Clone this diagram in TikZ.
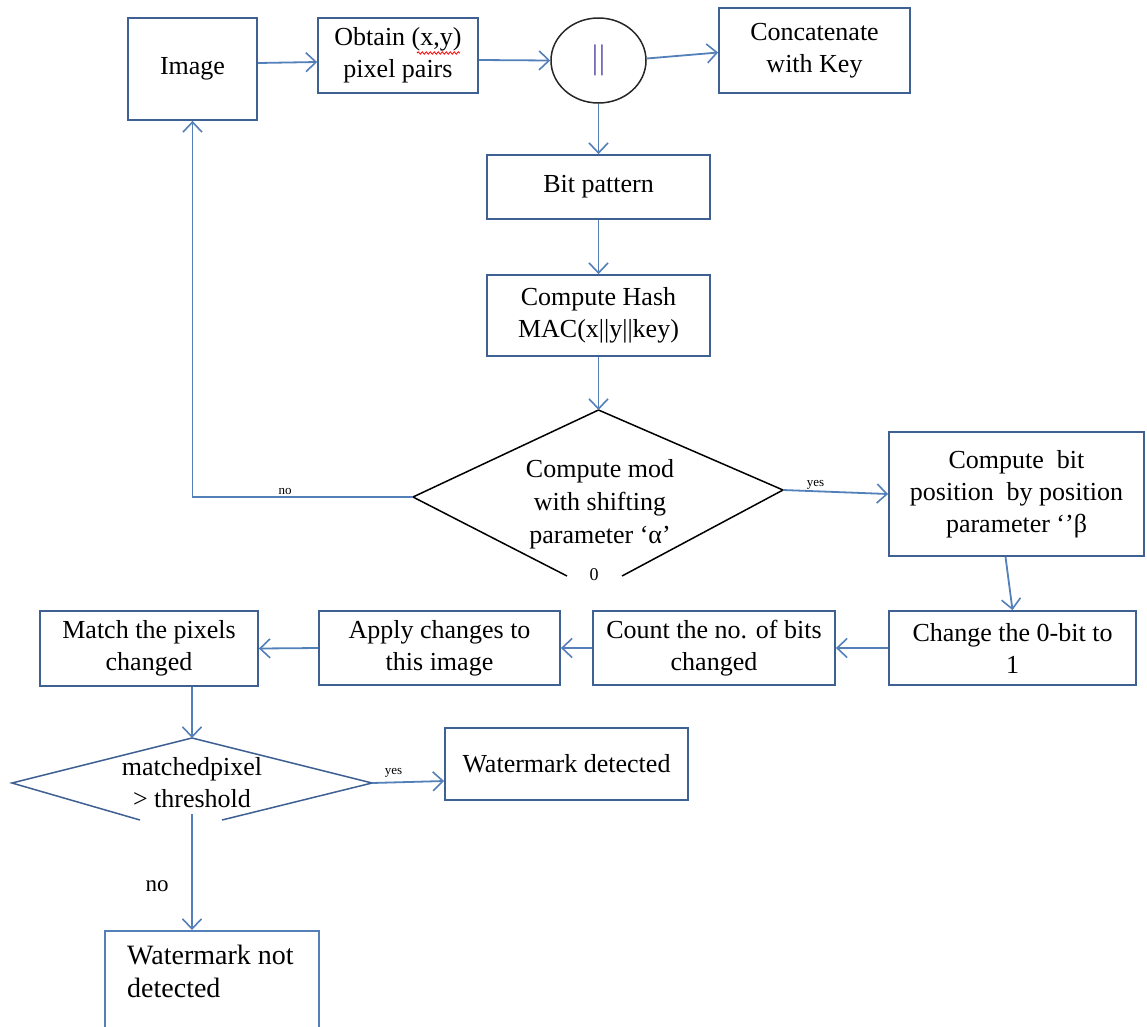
\documentclass[tikz,border=0pt]{standalone}
\usepackage{fontspec}
\setmainfont{Liberation Serif}
\usetikzlibrary{arrows.meta,shapes.geometric,decorations.pathmorphing,calc}
\definecolor{boxline}{RGB}{62,96,146}
\definecolor{flow}{RGB}{84,128,186}
\definecolor{barcol}{RGB}{110,100,175}
\tikzset{
  box/.style={draw=boxline,line width=1.8pt,inner sep=0pt,align=center,
    font=\fontsize{26}{32}\selectfont},
  link/.style={draw=flow,line width=1.8pt,
    -{Straight Barb[length=10pt,width=19pt,line width=1.6pt]}},
  decision/.style={line width=1.5pt},
  dtext/.style={align=center,font=\fontsize{26}{32}\selectfont},
  tinylabel/.style={font=\fontsize{13}{14}\selectfont,inner sep=1pt},
}
\begin{document}
\begin{tikzpicture}[x=1pt,y=-1pt]
\fill[white] (0,0) rectangle (1147,1026);
\useasboundingbox (0,0) rectangle (1147,1026);

% top row
\node[box,minimum width=129pt,minimum height=102pt] (img) at (192.5,69) {Image};
\node[box,minimum width=160pt,minimum height=75pt] (obt) at (398,55.5) {Obtain (x,y)\\pixel pairs};
\draw[red,line width=0.8pt,decorate,decoration={snake,amplitude=1.2pt,segment length=4pt}]
  (417,53) -- (460,53);
\node[ellipse,draw=black!85,line width=1.5pt,minimum width=95pt,minimum height=85pt,inner sep=0pt,
  font=\fontsize{34}{36}\selectfont,text=barcol] (bars) at (598.5,60.5) {||};
\node[box,minimum width=191pt,minimum height=85pt] (concat) at (814.5,50.5) {Concatenate\\with Key};

% middle column
\node[box,minimum width=223pt,minimum height=64pt] (bitp) at (598.5,187) {Bit pattern};
\node[box,minimum width=223pt,minimum height=81pt] (hash) at (598.5,315.5) {Compute Hash\\MAC(x||y||key)};

% first decision (lower tip cut off)
\coordinate (d1top) at (598.5,410);
\coordinate (d1left) at (413,497);
\coordinate (d1right) at (783,490);
\coordinate (d1lowL) at (567,576);
\coordinate (d1lowR) at (622,576);
\draw[decision] (d1lowL) -- (d1left) -- (d1top) -- (d1right) -- (d1lowR);
\node[dtext,font=\fontsize{26}{33}\selectfont] (d1text) at (600,504) {Compute mod\\with shifting\\parameter ‘α’};
\node[font=\fontsize{18}{20}\selectfont,inner sep=1pt] (zero) at (594,575) {0};

% right column and bottom row
\node[box,minimum width=255pt,minimum height=124pt] (cbit) at (1016.5,494)
  {Compute\ \ bit\\position\ \ by position\\parameter ‘’β};
\node[box,minimum width=247pt,minimum height=74pt] (chg) at (1012.5,648) {Change the 0-bit to\\1};
\node[box,minimum width=242pt,minimum height=74pt] (cnt) at (714,648) {Count the no. of bits\\changed};
\node[box,minimum width=241pt,minimum height=74pt] (apl) at (439.5,648) {Apply changes to\\this image};
\node[box,minimum width=218pt,minimum height=75pt] (mat) at (149,648.5) {Match the pixels\\changed};

% second decision (lower tip cut off)
\coordinate (d2top) at (192,738);
\coordinate (d2left) at (12,783);
\coordinate (d2right) at (372,783);
\coordinate (d2lowL) at (140,820);
\coordinate (d2lowR) at (222,820);
\coordinate (d2bot) at (192,814);
\draw[decision,draw=boxline] (d2lowL) -- (d2left) -- (d2top) -- (d2right) -- (d2lowR);
\node[dtext] (d2text) at (192,783) {matchedpixel\\> threshold};

\node[box,minimum width=243pt,minimum height=72pt] (wd) at (566.5,764) {Watermark detected};
% outcome box runs past the lower edge of the page
\node[draw=flow,line width=1.5pt,anchor=north west,minimum width=214pt,minimum height=104pt,
  inner sep=0pt] (wnd) at (104,930) {};
\node[anchor=north west,align=left,inner sep=0pt,
  font=\fontsize{28}{33}\selectfont] (wndtext) at (127,945) {Watermark not\\detected};

% connectors
\draw[link] ([yshift=6pt]img.east) -- ([yshift=-6.5pt]obt.west);
\draw[link] ([yshift=-4.5pt]obt.east) -- (bars.west);
\draw[link] ([yshift=2pt]bars.east) -- ($(concat.west)+(0,2)$);
\draw[link] (bars.south) -- (bitp.north);
\draw[link] (bitp.south) -- (hash.north);
\draw[link] (hash.south) -- (d1top);
\draw[link] (d1left) -| node[tinylabel,pos=0.29,above] {no} (img.south);
\draw[link] (d1right) -- node[tinylabel,pos=0.31,above] {yes} (cbit.west);
\draw[link] ([xshift=-11pt]cbit.south) -- (chg.north);
\draw[link] (chg.west) -- (cnt.east);
\draw[link] (cnt.west) -- (apl.east);
\draw[link] (apl.west) -- (mat.east);
\draw[link] (mat.south -| d2top) -- (d2top);
\draw[link] (d2right) -- node[tinylabel,pos=0.3,above=3pt] {yes} ($(wd.west)+(0,17)$);
\draw[link] (d2bot) -- (wnd.north -| d2bot);
\node[font=\fontsize{23}{26}\selectfont,inner sep=0pt] (nolab) at (157,886) {no};
\end{tikzpicture}
\end{document}
